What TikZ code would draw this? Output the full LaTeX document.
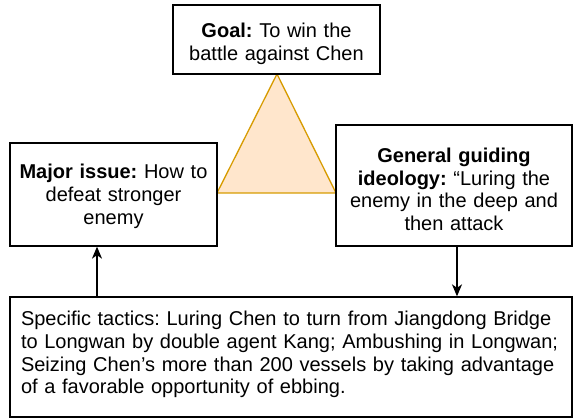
\documentclass[tikz,border=0pt]{standalone}
\usepackage{fontspec}
\setmainfont{Liberation Sans}
\usetikzlibrary{arrows.meta}
\definecolor{trifill}{HTML}{FFE6CC}
\definecolor{tridraw}{HTML}{D79B00}
\tikzset{
  box/.style={draw=black, line width=1.3pt, fill=white, inner sep=0pt},
  boxtext/.style={align=center, inner sep=0pt,
    font=\fontsize{20}{22.7}\selectfont\frenchspacing},
  link/.style={line width=1.3pt, -{Stealth[length=12pt,width=10pt,inset=3.5pt]}},
}
\begin{document}
\begin{tikzpicture}[x=1pt,y=-1pt]
  \useasboundingbox (0,0) rectangle (574,419);
  % triangle between the three upper boxes
  \coordinate (apex) at (277,74);
  \coordinate (baseL) at (217,193);
  \coordinate (baseR) at (336,193);
  \draw[fill=trifill, draw=tridraw, line width=1.3pt, line join=miter] (apex) -- (baseL) -- (baseR) -- cycle;
  % boxes
  \node[box, minimum width=207pt, minimum height=69pt] (goal) at (276.5,39.5) {};
  \node[boxtext, text width=204pt, yshift=-4pt] (goaltext) at (goal.center)
    {\textbf{Goal:} To win the\\battle against Chen};
  \node[box, minimum width=207pt, minimum height=103pt] (issue) at (113.5,194.5) {};
  \node[boxtext, text width=204pt, yshift=-2pt] (issuetext) at (issue.center)
    {\textbf{Major issue:} How to\\defeat stronger\\enemy};
  \node[box, minimum width=236pt, minimum height=121pt] (ideology) at (454,185.5) {};
  \node[boxtext, text width=232pt, yshift=-4pt] (ideologytext) at (ideology.center)
    {\textbf{General guiding}\\\textbf{ideology:} “Luring the\\enemy in the deep and\\then attack};
  \node[box, minimum width=562pt, minimum height=120pt] (tactics) at (291,357) {};
  \node[boxtext, text width=540pt, align=left, yshift=2.5pt] (tacticstext) at (tactics.center)
    {Specific tactics: Luring Chen to turn from Jiangdong Bridge\\to Longwan by double agent Kang; Ambushing in Longwan;\\Seizing Chen’s more than 200 vessels by taking advantage\\of a favorable opportunity of ebbing.};
  % connectors
  \draw[link] (tactics.north -| 97,0) -- (issue.south -| 97,0);
  \draw[link] (ideology.south -| 457,0) -- (tactics.north -| 457,0);
\end{tikzpicture}
\end{document}
